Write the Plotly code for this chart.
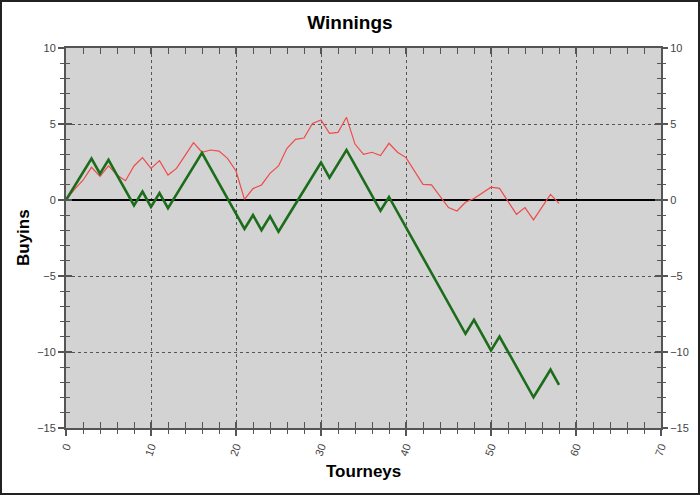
import plotly.graph_objects as go

tourneys = list(range(59))
winnings_actual = [0, 0.91, 1.82, 2.73, 1.73, 2.64, 1.64, 0.64, -0.36, 0.55,
                   -0.45, 0.46, -0.54, 0.37, 1.28, 2.19, 3.10, 2.10, 1.10, 0.10,
                   -0.90, -1.90, -0.99, -1.99, -1.08, -2.08, -1.17, -0.26, 0.65, 1.56,
                   2.47, 1.47, 2.38, 3.29, 2.29, 1.29, 0.29, -0.71, 0.20, -0.80,
                   -1.80, -2.80, -3.80, -4.80, -5.80, -6.80, -7.80, -8.80, -7.89, -8.89,
                   -9.89, -8.98, -9.98, -10.98, -11.98, -12.98, -12.07, -11.16, -12.16]
winnings_expected = [0, 0.70, 1.30, 2.15, 1.55, 2.24, 1.64, 1.27, 2.24, 2.79,
                     2.08, 2.59, 1.64, 2.08, 2.92, 3.77, 3.14, 3.29, 3.22, 2.74,
                     1.91, 0.04, 0.75, 0.99, 1.75, 2.24, 3.40, 3.99, 4.08, 5.04,
                     5.26, 4.39, 4.45, 5.44, 3.68, 3.00, 3.14, 2.92, 3.73, 3.14,
                     2.79, 1.90, 1.03, 0.99, 0.25, -0.50, -0.72, -0.15, 0.10, 0.45,
                     0.84, 0.77, -0.08, -0.94, -0.50, -1.31, -0.47, 0.37, -0.22]

W, H = 700, 495
ML, MR, MT, MB = 66, 39, 48, 67
FONT = "Liberation Sans, Arial, sans-serif"
AX = "#555555"
XR = [0, 70]
YR = [-15, 10]

fig = go.Figure()
fig.add_trace(go.Scatter(x=tourneys, y=winnings_expected, mode="lines",
                         line=dict(color="#f04a4a", width=1.2), hoverinfo="skip",
                         showlegend=False))
fig.add_trace(go.Scatter(x=tourneys, y=winnings_actual, mode="lines",
                         line=dict(color="#1b6d1b", width=2.6), hoverinfo="skip",
                         showlegend=False))
# invisible helper traces so overlay axes are drawn
fig.add_trace(go.Scatter(x=tourneys, y=winnings_actual, xaxis="x2", yaxis="y2",
                         mode="lines", opacity=0, hoverinfo="skip", showlegend=False))
fig.add_trace(go.Scatter(x=tourneys, y=winnings_actual, xaxis="x2", yaxis="y3",
                         mode="lines", opacity=0, hoverinfo="skip", showlegend=False))

tickfont = dict(family=FONT, size=11, color="#444444")
titlefont = dict(family=FONT, size=17, color="black")

pw = W - ML - MR
ph = H - MT - MB

fig.update_layout(
    width=W, height=H,
    margin=dict(l=ML, r=MR, t=MT, b=MB, autoexpand=False),
    paper_bgcolor="white",
    plot_bgcolor="#d3d3d3",
    title=dict(text="<b>Winnings</b>", x=0.5, xanchor="center",
               y=1 - 22 / H, yanchor="middle", yref="container",
               font=dict(family=FONT, size=19, color="black")),
    xaxis=dict(range=XR, dtick=10, tick0=0, showgrid=True, gridcolor="#555555",
               griddash="dot", gridwidth=1, zeroline=False, automargin=False,
               showline=True, linecolor=AX, linewidth=2, mirror=True,
               ticks="outside", ticklen=6, tickcolor=AX, tickwidth=1.5,
               minor=dict(dtick=2, ticks="outside", ticklen=4, tickcolor=AX, tickwidth=1,
                          showgrid=False),
               tickangle=-70, tickfont=tickfont),
    xaxis2=dict(range=XR, overlaying="x", side="bottom", anchor="y", dtick=10, tick0=0,
                showgrid=False, zeroline=False, showticklabels=False, automargin=False,
                ticks="inside", ticklen=6, tickcolor=AX, tickwidth=1.5, mirror="allticks",
                showline=False,
                minor=dict(dtick=2, ticks="inside", ticklen=4, tickcolor=AX, tickwidth=1,
                           showgrid=False)),
    yaxis=dict(range=YR, dtick=5, tick0=0, showgrid=True, gridcolor="#555555",
               griddash="dot", gridwidth=1, automargin=False,
               zeroline=True, zerolinecolor="black", zerolinewidth=1.5,
               showline=True, linecolor=AX, linewidth=2, mirror=True,
               ticks="outside", ticklen=6, tickcolor=AX, tickwidth=1.5,
               minor=dict(dtick=1, ticks="outside", ticklen=4, tickcolor=AX, tickwidth=1,
                          showgrid=False),
               tickfont=tickfont),
    yaxis2=dict(range=YR, overlaying="y", side="right", anchor="x", dtick=5, tick0=0,
                showgrid=False, zeroline=False, showline=False, automargin=False,
                ticks="outside", ticklen=6, tickcolor=AX, tickwidth=1.5,
                minor=dict(dtick=1, ticks="outside", ticklen=4, tickcolor=AX, tickwidth=1,
                           showgrid=False),
                tickfont=tickfont),
    yaxis3=dict(range=YR, overlaying="y", side="left", anchor="x", dtick=5, tick0=0,
                showgrid=False, zeroline=False, showline=False, showticklabels=False,
                automargin=False,
                ticks="inside", ticklen=6, tickcolor=AX, tickwidth=1.5, mirror="allticks",
                minor=dict(dtick=1, ticks="inside", ticklen=4, tickcolor=AX, tickwidth=1,
                           showgrid=False)),
    annotations=[
        dict(text="<b>Tourneys</b>", xref="paper", yref="paper", x=0.5,
             y=-(472 - (H - MB)) / ph, xanchor="center", yanchor="middle",
             showarrow=False, font=titlefont),
        dict(text="<b>Buyins</b>", xref="paper", yref="paper", x=-(ML - 23) / pw,
             y=1 - (237 - MT) / ph, xanchor="center", yanchor="middle", textangle=-90,
             showarrow=False, font=titlefont),
    ],
)

fig.add_shape(type="rect", xref="paper", yref="paper",
              x0=(-ML + 1) / pw, x1=1 + (MR - 1) / pw,
              y0=(-MB + 1) / ph, y1=1 + (MT - 1) / ph,
              line=dict(color="#222222", width=2), fillcolor="rgba(0,0,0,0)", layer="above")

fig.write_html("out.html", config={"displayModeBar": False})
with open("out.html", "r", encoding="utf-8") as f:
    html = f.read()
html = html.replace("<head>", "<head><style>html,body{margin:0;padding:0;overflow:hidden;}</style>", 1)
with open("out.html", "w", encoding="utf-8") as f:
    f.write(html)
